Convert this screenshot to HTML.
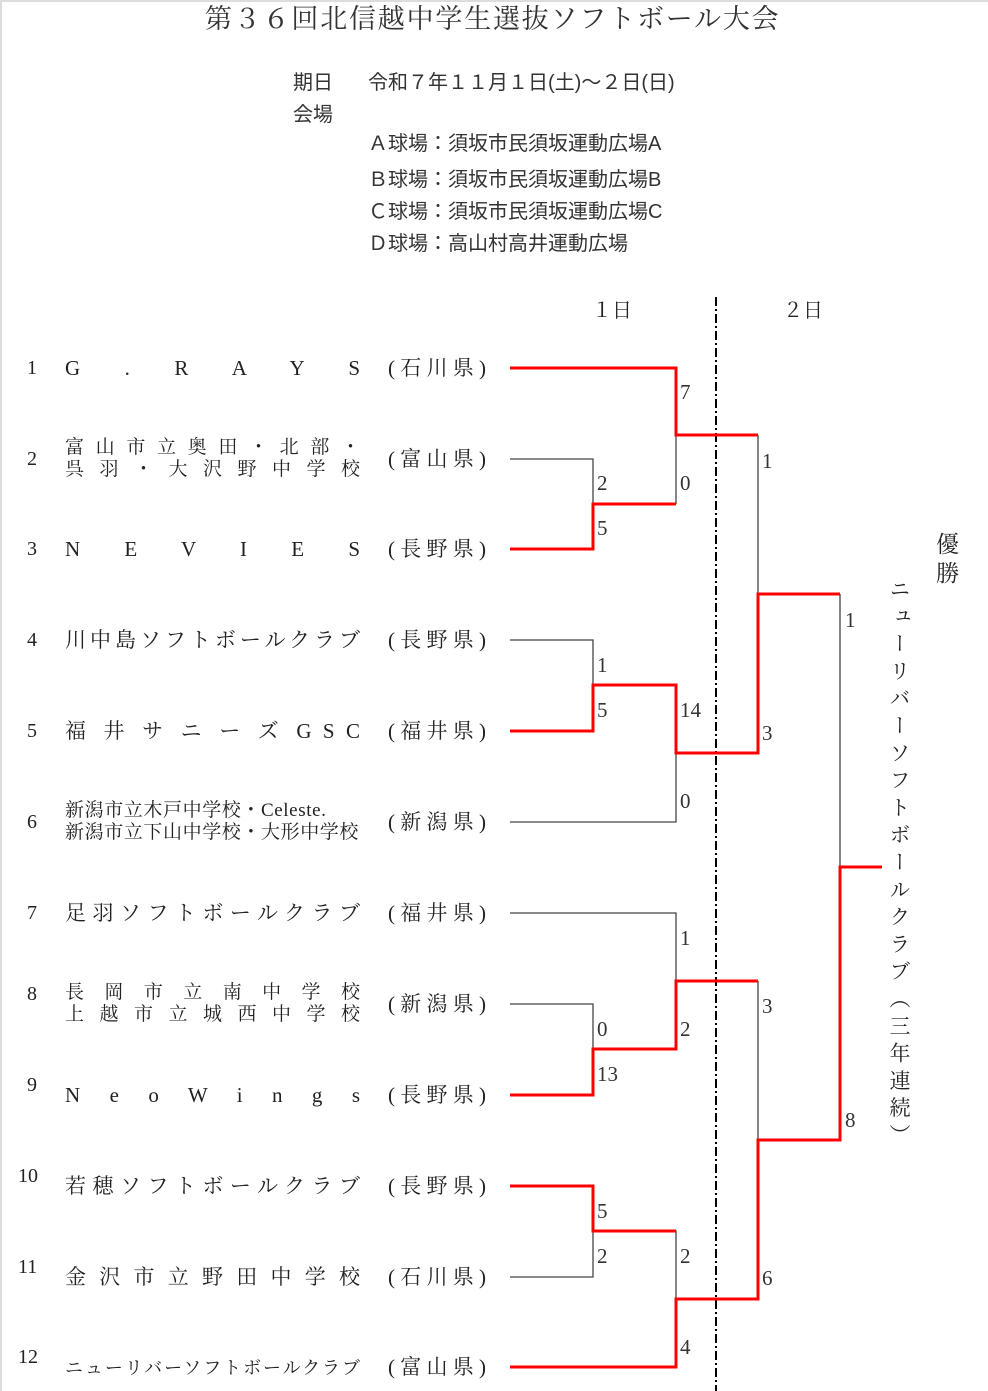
<!DOCTYPE html>
<html><head><meta charset="utf-8"><style>
*{margin:0;padding:0;box-sizing:border-box}
body{width:988px;height:1391px;background:#fff;position:relative;overflow:hidden;font-family:"Liberation Serif","Noto Serif CJK SC",serif;color:#222}
.a{position:absolute;white-space:nowrap;line-height:1}
.nm{position:absolute;left:65px;width:295px;font-size:21px;line-height:1;text-align:justify;text-align-last:justify}
.nm2{position:absolute;left:65px;width:295px;font-size:19px;line-height:22px;text-align:justify;text-align-last:justify}
.num{position:absolute;left:27px;font-size:20px;line-height:1;font-family:"Liberation Serif",serif}
.pf{position:absolute;left:388px;width:98px;font-size:21px;line-height:1;text-align:justify;text-align-last:justify}
.h{font-family:"Liberation Sans","Noto Sans CJK JP",sans-serif;font-size:20px;color:#333}
svg{position:absolute;left:0;top:0}
svg text{font-family:"Liberation Serif",serif;font-size:21px;fill:#333}
</style></head><body>
<div style="position:absolute;left:0;top:0;width:988px;height:2px;background:#ddd"></div>
<div style="position:absolute;left:0;top:0;width:2px;height:1391px;background:#ddd"></div>
<div class="a" style="left:205px;top:6px;font-size:27px;letter-spacing:1.8px;font-family:'Liberation Serif','Noto Serif CJK JP',serif;color:#333">第３６回北信越中学生選抜ソフトボール大会</div>
<div class="a h" style="left:293px;top:73px">期日</div>
<div class="a h" style="left:368px;top:73px">令和７年１１月１日(土)～２日(日)</div>
<div class="a h" style="left:293px;top:105px">会場</div>
<div class="a h" style="left:368px;top:134px">Ａ球場：須坂市民須坂運動広場A</div>
<div class="a h" style="left:368px;top:170px">Ｂ球場：須坂市民須坂運動広場B</div>
<div class="a h" style="left:368px;top:202px">Ｃ球場：須坂市民須坂運動広場C</div>
<div class="a h" style="left:368px;top:234px">Ｄ球場：高山村高井運動広場</div>
<div class="a" style="left:592px;top:301px;font-size:20px">１日</div>
<div class="a" style="left:783px;top:301px;font-size:20px">２日</div>

<div class="num" style="top:358px">1</div><div class="nm" style="top:358px">G . R A Y S</div><div class="pf" style="top:358px">( 石 川 県 )</div>
<div class="num" style="top:449px">2</div><div class="nm2" style="top:437px">富山市立奥田・北部・<br>呉羽・大沢野中学校</div><div class="pf" style="top:449px">( 富 山 県 )</div>
<div class="num" style="top:539px">3</div><div class="nm" style="top:539px">N E V I E S</div><div class="pf" style="top:539px">( 長 野 県 )</div>
<div class="num" style="top:630px">4</div><div class="nm" style="top:630px">川中島ソフトボールクラブ</div><div class="pf" style="top:630px">( 長 野 県 )</div>
<div class="num" style="top:721px">5</div><div class="nm" style="top:721px">福 井 サ ニ ー ズ G S C</div><div class="pf" style="top:721px">( 福 井 県 )</div>
<div class="num" style="top:812px">6</div><div class="nm2" style="top:800px;text-align-last:auto;letter-spacing:0.6px">新潟市立木戸中学校・Celeste.<br>新潟市立下山中学校・大形中学校</div><div class="pf" style="top:812px">( 新 潟 県 )</div>
<div class="num" style="top:903px">7</div><div class="nm" style="top:903px">足羽ソフトボールクラブ</div><div class="pf" style="top:903px">( 福 井 県 )</div>
<div class="num" style="top:984px">8</div><div class="nm2" style="top:982px">長岡市立南中学校<br>上越市立城西中学校</div><div class="pf" style="top:994px">( 新 潟 県 )</div>
<div class="num" style="top:1075px">9</div><div class="nm" style="top:1085px">N e o W i n g s</div><div class="pf" style="top:1085px">( 長 野 県 )</div>
<div class="num" style="top:1166px;left:18px">10</div><div class="nm" style="top:1176px">若穂ソフトボールクラブ</div><div class="pf" style="top:1176px">( 長 野 県 )</div>
<div class="num" style="top:1257px;left:18px">11</div><div class="nm" style="top:1267px">金沢市立野田中学校</div><div class="pf" style="top:1267px">( 石 川 県 )</div>
<div class="num" style="top:1347px;left:18px">12</div><div class="nm" style="top:1359px;font-size:18px">ニューリバーソフトボールクラブ</div><div class="pf" style="top:1357px">( 富 山 県 )</div>

<svg width="988" height="1391">
<line x1="716" y1="297" x2="716" y2="1391" stroke="#000" stroke-width="2" stroke-dasharray="9,3,2,3"/>
<g fill="none" stroke="#444" stroke-width="1.3">
<polyline points="510,459 593,459 593,504"/>
<polyline points="510,640 593,640 593,685"/>
<polyline points="510,822 676,822 676,753"/>
<polyline points="676,435 676,504"/>
<polyline points="510,913 676,913 676,981"/>
<polyline points="510,1004 593,1004 593,1049"/>
<polyline points="510,1277 593,1277 593,1231"/>
<polyline points="593,1231 676,1231 676,1299"/>
<polyline points="758,435 758,594"/>
<polyline points="758,981 758,1140"/>
<polyline points="840,594 840,867"/>
<polyline points="593,504 676,504"/>
</g>
<g fill="none" stroke="#f00" stroke-width="3">
<polyline points="510,368 676,368 676,435 758,435"/>
<polyline points="510,549 593,549 593,504 676,504"/>
<polyline points="510,731 593,731 593,685 676,685 676,753 758,753 758,594 840,594"/>
<polyline points="510,1095 593,1095 593,1049 676,1049 676,981 758,981"/>
<polyline points="510,1186 593,1186 593,1231 676,1231"/>
<polyline points="510,1367 676,1367 676,1299 758,1299 758,1140 840,1140 840,867 882,867"/>
</g>
<text x="680" y="399">7</text><text x="680" y="490">0</text>
<text x="597" y="490">2</text><text x="597" y="535">5</text>
<text x="597" y="672">1</text><text x="597" y="717">5</text>
<text x="680" y="717">14</text><text x="680" y="808">0</text>
<text x="762" y="468">1</text><text x="762" y="740">3</text>
<text x="845" y="627">1</text>
<text x="680" y="945">1</text><text x="597" y="1036">0</text>
<text x="680" y="1036">2</text><text x="597" y="1081">13</text>
<text x="762" y="1013">3</text><text x="845" y="1127">8</text>
<text x="597" y="1218">5</text><text x="597" y="1263">2</text>
<text x="680" y="1263">2</text><text x="762" y="1285">6</text>
<text x="680" y="1354">4</text>
</svg>
<div class="a" style="left:936px;top:530px;font-size:23px;line-height:29px;white-space:normal;width:26px;font-family:'Liberation Serif','Noto Serif CJK JP',serif">優<br>勝</div>
<div class="a" style="left:888px;top:578px;font-size:21px;writing-mode:vertical-rl;letter-spacing:6.3px;font-family:'Liberation Serif','Noto Serif CJK JP',serif">ニューリバーソフトボールクラブ（三年連続）</div>
</body></html>
